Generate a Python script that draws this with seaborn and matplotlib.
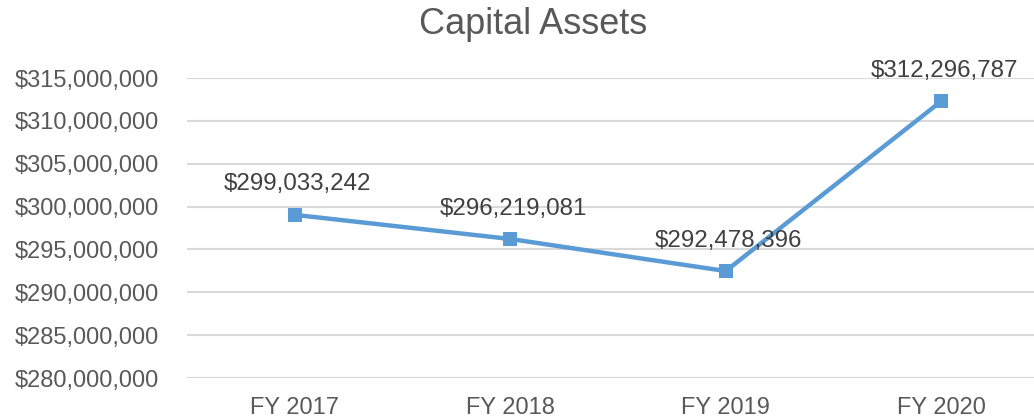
import matplotlib
matplotlib.use("Agg")
import matplotlib.pyplot as plt
import seaborn as sns
import pandas as pd
from matplotlib.ticker import FuncFormatter

categories = ["FY 2017", "FY 2018", "FY 2019", "FY 2020"]
values = [299033242, 296219081, 292478396, 312296787]
title = "Capital Assets"

sns.set_theme(style="white")
plt.rcParams['font.family'] = ['Liberation Sans', 'DejaVu Sans']

df = pd.DataFrame({"year": categories, "value": values})

fig = plt.figure(figsize=(10.34, 4.2), dpi=100)
ax = fig.add_axes([187/1034, 42/420, 862/1034, 300/420])

sns.lineplot(data=df, x="year", y="value", ax=ax, color="#5B9BD5",
             linewidth=3.2, marker="s", markersize=10.5, markeredgewidth=0,
             sort=False, zorder=3)

ax.set_xlim(-0.5, 3.5)
ax.set_ylim(280_000_000, 315_000_000)
ax.set_yticks(range(280_000_000, 315_000_001, 5_000_000))
ax.yaxis.set_major_formatter(FuncFormatter(lambda v, p: f"${v:,.0f}"))
ax.grid(axis="y", color="#D9D9D9", linewidth=1.5)
ax.grid(axis="x", visible=False)
for s in ax.spines.values():
    s.set_visible(False)
ax.tick_params(axis="y", length=0, pad=20, labelsize=17, labelcolor="#595959")
ax.tick_params(axis="x", length=0, pad=14, labelsize=17, labelcolor="#595959")
ax.set_xlabel("")
ax.set_ylabel("")

for i, v in enumerate(values):
    ax.annotate(f"${v:,.0f}", (i, v), xytext=(2, 14), textcoords="offset points",
                ha="center", va="bottom", fontsize=17.4, color="#404040")

fig.text(533/1034, 1 - 24/420, title, ha="center", va="center",
         fontsize=26, color="#595959")

fig.savefig("out.png", dpi=100)
